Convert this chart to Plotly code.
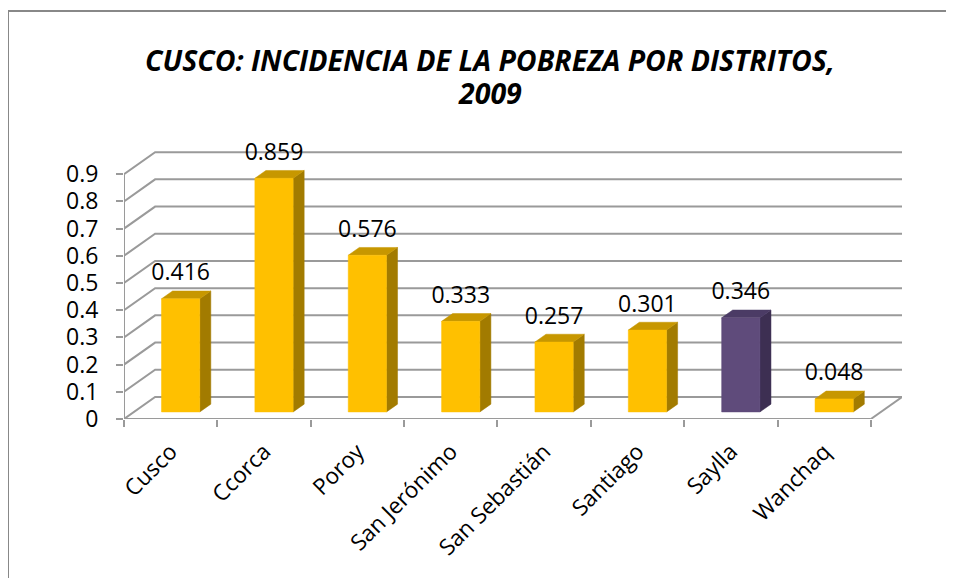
import plotly.graph_objects as go

categories = ["Cusco", "Ccorca", "Poroy", "San Jerónimo", "San Sebastián", "Santiago", "Saylla", "Wanchaq"]
values = [0.416, 0.859, 0.576, 0.333, 0.257, 0.301, 0.346, 0.048]
highlight = "Saylla"
y_ticks = [0, 0.1, 0.2, 0.3, 0.4, 0.5, 0.6, 0.7, 0.8, 0.9]
y_tick_text = ["0", "0.1", "0.2", "0.3", "0.4", "0.5", "0.6", "0.7", "0.8", "0.9"]
title_lines = ["CUSCO: INCIDENCIA DE LA POBREZA POR DISTRITOS,", "2009"]

W, H = 954, 578
OFF = 8                             # page body margin
L, R, T, B = 124 - OFF, 60, 147 - OFF, 578 - 419 + OFF
PW, PH = W - L - R, H - T - B
n = len(categories)
DX, DY = 1.0 / 3.0, 0.081          # full depth offset in data units
F0, F1 = 0.32, 0.675               # bar depth span (fraction of full depth)
BW = 0.41                          # bar width in category units
XMIN, XMAX = -0.5, n - 0.5 + DX
YMIN, YMAX = 0.0, 1.0

GRID = "#9a9a9a"
GOLD = ("#FFC000", "#C79700", "#A27B00")
PURP = ("#5F4B7B", "#4B3B65", "#3D2F52")
FONT = "Open Sans"


def px_x(p):  # page pixel -> paper x
    return (p - OFF - L) / PW


def px_y(p):  # page pixel -> paper y
    return (H - B - (p - OFF)) / PH


fig = go.Figure()

# walls: side wall diagonals + back wall gridlines
gx, gy = [], []
for v in y_ticks:
    gx += [-0.5, -0.5 + DX, XMAX, None]
    gy += [v, v + DY, v + DY, None]
gx += [n - 0.5, n - 0.5 + DX, None]
gy += [0, DY, None]
fig.add_trace(go.Scatter(x=gx, y=gy, mode="lines", line=dict(color=GRID, width=2),
                         hoverinfo="skip", showlegend=False, cliponaxis=False))

# front axes lines
fig.add_trace(go.Scatter(x=[-0.5, -0.5, None, -0.5, n - 0.5], y=[y_ticks[-1], 0, None, 0, 0],
                         mode="lines", line=dict(color=GRID, width=2),
                         hoverinfo="skip", showlegend=False, cliponaxis=False))

# bars
lab_x, lab_y, lab_t = [], [], []
for i, (c, v) in enumerate(zip(categories, values)):
    front, top, side = PURP if c == highlight else GOLD
    x0 = i - BW / 2 + F0 * DX
    x1 = i + BW / 2 + F0 * DX
    y0 = F0 * DY
    y1 = v + F0 * DY
    ddx = (F1 - F0) * DX
    ddy = (F1 - F0) * DY
    fig.add_trace(go.Scatter(x=[x1, x1 + ddx, x1 + ddx, x1, x1], y=[y0, y0 + ddy, y1 + ddy, y1, y0],
                             fill="toself", fillcolor=side, mode="lines", line=dict(color=side, width=0.5),
                             hoverinfo="skip", showlegend=False))
    fig.add_trace(go.Scatter(x=[x0, x1, x1 + ddx, x0 + ddx, x0], y=[y1, y1, y1 + ddy, y1 + ddy, y1],
                             fill="toself", fillcolor=top, mode="lines", line=dict(color=top, width=0.5),
                             hoverinfo="skip", showlegend=False))
    fig.add_trace(go.Scatter(x=[x0, x1, x1, x0, x0], y=[y0, y0, y1, y1, y0],
                             fill="toself", fillcolor=front, mode="lines", line=dict(color=front, width=0.5),
                             hoverinfo="skip", showlegend=False))
    lab_x.append(i + F0 * DX)
    lab_y.append(v + F1 * DY + 0.018)
    lab_t.append(f"{v:.3f}")

fig.add_trace(go.Scatter(x=lab_x, y=lab_y, text=lab_t, mode="text", textposition="top center",
                         textfont=dict(family=FONT, size=23, color="black"),
                         hoverinfo="skip", showlegend=False, cliponaxis=False))

annotations = [
    dict(text=f"<b><i>{title_lines[0]}</i></b>", xref="paper", yref="paper",
         x=px_x(490), y=px_y(60), xanchor="center", yanchor="middle", showarrow=False,
         font=dict(family=FONT, size=28.5, color="black")),
    dict(text=f"<b><i>{title_lines[1]}</i></b>", xref="paper", yref="paper",
         x=px_x(490), y=px_y(93), xanchor="center", yanchor="middle", showarrow=False,
         font=dict(family=FONT, size=28.5, color="black")),
]

fig.update_layout(
    width=W, height=H,
    margin=dict(l=L, r=R, t=T, b=B, autoexpand=False),
    paper_bgcolor="white", plot_bgcolor="white",
    annotations=annotations,
    xaxis=dict(range=[XMIN, XMAX], showgrid=False, zeroline=False, showline=False,
               tickmode="array", tickvals=list(range(n)), ticktext=categories,
               tickangle=-45, ticks="", ticklabelstandoff=14,
               tickfont=dict(family=FONT, size=22.5, color="black"),
               minor=dict(tickmode="array", tickvals=[i - 0.5 for i in range(n + 1)],
                          ticks="outside", ticklen=7, tickcolor=GRID, tickwidth=2)),
    yaxis=dict(range=[YMIN, YMAX], showgrid=False, zeroline=False, showline=False,
               tickmode="array", tickvals=y_ticks, ticktext=y_tick_text,
               ticks="outside", ticklen=7, tickcolor=GRID, tickwidth=2, ticklabelstandoff=13,
               tickfont=dict(family=FONT, size=23, color="black")),
    shapes=[dict(type="line", xref="paper", yref="paper",
                 x0=px_x(8), x1=px_x(8), y0=px_y(11), y1=px_y(620),
                 line=dict(color="#888888", width=2)),
            dict(type="line", xref="paper", yref="paper",
                 x0=px_x(8), x1=px_x(980), y0=px_y(11), y1=px_y(11),
                 line=dict(color="#888888", width=2))],
)

fig.write_html("out.html")
